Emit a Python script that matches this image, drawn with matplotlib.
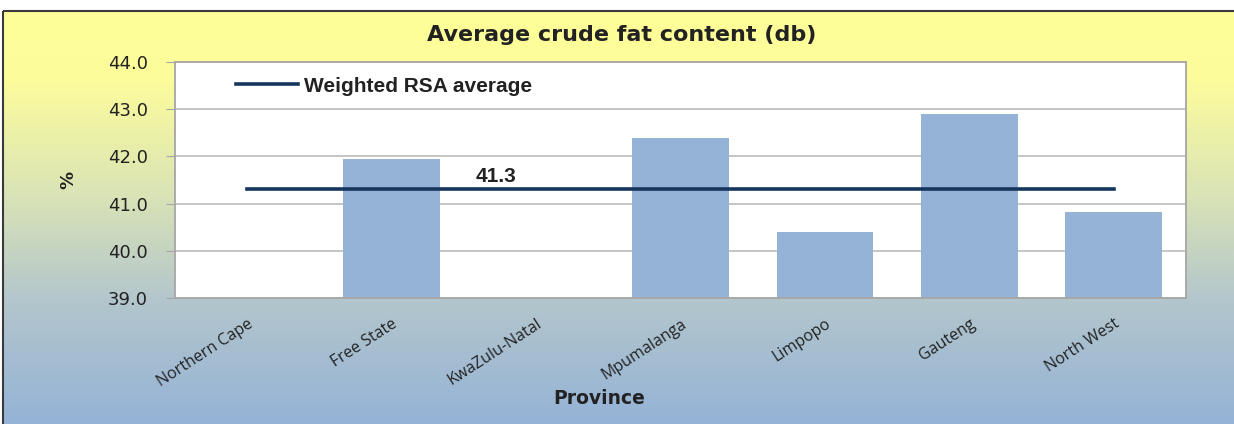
import matplotlib.pyplot as plt
import numpy as np
from matplotlib.colors import LinearSegmentedColormap
from matplotlib.patches import Rectangle

W, H = 1234, 424

provinces = ["Northern Cape", "Free State", "KwaZulu-Natal", "Mpumalanga",
             "Limpopo", "Gauteng", "North West"]
fat = [np.nan, 41.95, np.nan, 42.40, 40.40, 42.90, 40.82]
rsa_avg = 41.3

# figure with the yellow -> blue background
fig = plt.figure(figsize=(W / 100, H / 100), dpi=100)
fig.patch.set_facecolor("white")

bg = fig.add_axes([0, 0, 1, 1], zorder=-5)
bg.set_xlim(0, W)
bg.set_ylim(H, 0)
bg.axis("off")
cmap = LinearSegmentedColormap.from_list("bg", [
    (0.0, "#FFFF99"), (0.17, "#FCFC9C"), (0.45, "#D9E3B6"),
    (0.70, "#B3C6CC"), (1.0, "#95B3D7")])
grad = np.linspace(0, 1, 256).reshape(-1, 1)
bg.imshow(grad, cmap=cmap, aspect="auto", extent=(3, W, H, 11))
bg.add_patch(Rectangle((3, 11), W + 10, H, fill=False, edgecolor="#3A3A3A", lw=1.5))

# plot area
x0, x1, y0, y1 = 175, 1186, 62, 298
ax = fig.add_axes([x0 / W, 1 - y1 / H, (x1 - x0) / W, (y1 - y0) / H])
ax.set_facecolor("white")

x = np.arange(len(provinces))
ax.bar(x, fat, width=0.67, color="#95B3D7", zorder=2)
ax.plot(x, [rsa_avg] * len(x), color="#17365D", lw=2.6, zorder=3,
        label="Weighted RSA average")
ax.annotate(f"{rsa_avg}", xy=(1.72, rsa_avg), xytext=(0, 2.5), textcoords="offset points",
            ha="center", va="bottom", fontsize=15, fontweight="bold",
            family="Liberation Sans", color="#222222")

ax.set_xlim(-0.5, len(x) - 0.5)
ax.set_ylim(39, 44)
ax.set_yticks(np.arange(39, 44.01, 1.0))
ax.set_yticklabels([f"{v:.1f}" for v in np.arange(39, 44.01, 1.0)])
ax.grid(axis="y", color="#C0C0C0", lw=1.3, zorder=0)
ax.set_axisbelow(True)
for s in ax.spines.values():
    s.set_color("#A6A6A6")
    s.set_linewidth(1.3)

ax.tick_params(axis="y", length=6.5, color="#A6A6A6", pad=13, labelsize=13,
               labelcolor="#222222")
ax.tick_params(axis="x", length=0, pad=13)
ax.set_xticks(x)
ax.set_xticklabels(provinces, rotation=33, ha="right", rotation_mode="anchor",
                   family="Open Sans", fontsize=11.5, color="#222222")

ax.set_ylabel("%", fontsize=13, fontweight="bold", color="#222222")
ax.yaxis.set_label_coords(-0.097, 0.5)
ax.set_xlabel("Province", fontsize=13.5, fontweight="bold", color="#222222")
ax.xaxis.set_label_coords((599 - x0) / (x1 - x0), (y1 - 398) / (y1 - y0))
ax.xaxis.label.set_va("center")

leg = ax.legend(loc="center left", bbox_to_anchor=(0.06, 0.898), frameon=False,
                borderpad=0, borderaxespad=0, handlelength=3.0, handletextpad=0.3,
                prop={"family": "Liberation Sans", "weight": "bold", "size": 15})
for t in leg.get_texts():
    t.set_color("#222222")

fig.text(622 / W, 1 - 35 / H, "Average crude fat content (db)", ha="center", va="center",
         fontsize=16, fontweight="bold", color="#222222")

fig.savefig("out.png", dpi=100)
